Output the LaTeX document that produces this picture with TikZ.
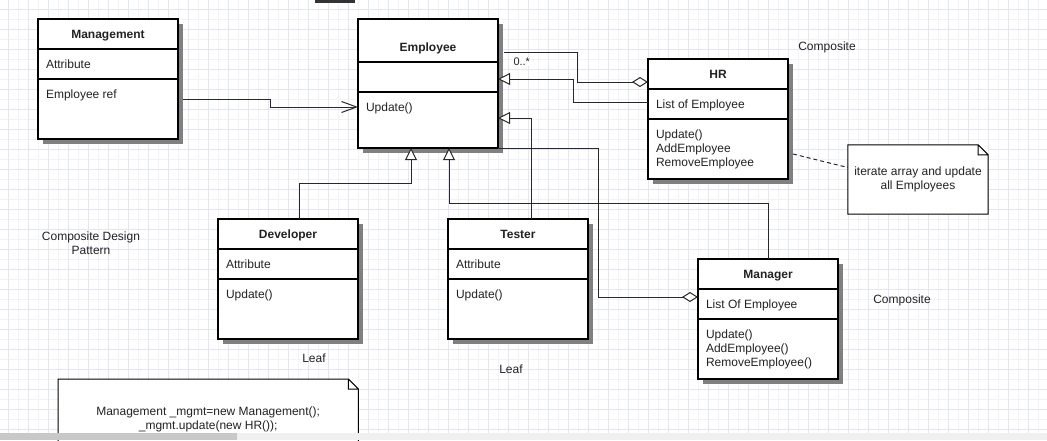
\documentclass[tikz,border=0pt]{standalone}
\usepackage{fontspec}
\setmainfont{Liberation Sans}
\usepackage{xcolor}
\definecolor{ink}{RGB}{34,34,34}
\definecolor{edgecol}{RGB}{40,40,40}
\definecolor{shadowcol}{RGB}{128,128,128}
\definecolor{gridmaj}{RGB}{228,228,250}
\definecolor{gridmin}{RGB}{242,242,252}
\definecolor{bandlight}{RGB}{240,240,240}
\definecolor{banddark}{RGB}{200,200,200}
\definecolor{topbar}{RGB}{51,51,51}
\usepackage{tikz}
\usetikzlibrary{arrows.meta,positioning,shadows}

\newcommand{\clbody}[2]{\parbox[c][#1][t]{124pt}{\raggedright\rule{0pt}{19.2pt}#2}}
\newcommand{\cltitle}[3][19.2pt]{\parbox[c][#2][t]{124pt}{\centering\bfseries\rule{0pt}{#1}#3}}

\tikzset{
  clpart/.style={draw=black,line width=2pt,fill=white,text=ink,inner xsep=8pt,inner ysep=0pt,outer sep=0pt,
    drop shadow={shadow xshift=4.5pt,shadow yshift=-4.5pt,fill=shadowcol,opacity=1}},
  notebox/.style={fill=white,inner sep=0pt,align=center,text=ink},
  noteline/.style={draw=black,line width=1pt},
  plain/.style={inner sep=0pt,align=center,text=ink},
  mult/.style={fill=white,inner sep=1pt,text=ink,font=\fontsize{11}{13}\selectfont},
  gen/.style={draw=edgecol,line width=1pt,-{Triangle[length=12pt,width=12pt,fill=white]}},
  aggr/.style={draw=edgecol,line width=1pt,{Diamond[length=16pt,width=10pt,fill=white]}-},
  assoc/.style={draw=edgecol,line width=1pt,-{Straight Barb[length=15pt,width=11pt]}},
  dashlink/.style={draw=edgecol,line width=1pt,dash pattern=on 4pt off 3pt}
}

\begin{document}
\begin{tikzpicture}[x=1pt,y=-1pt,font=\fontsize{12}{14}\selectfont]
  \useasboundingbox (0,0) rectangle (1047,440);
  \clip (0,0) rectangle (1047,440);
  \fill[white] (0,0) rectangle (1047,440);
  \foreach \gx in {18,38,...,1047} \draw[gridmin,line width=1pt] (\gx,0) -- (\gx,440);
  \foreach \gy in {19,39,...,440} \draw[gridmin,line width=1pt] (0,\gy) -- (1047,\gy);
  \foreach \gx in {8,28,...,1047} \draw[gridmaj,line width=1pt] (\gx,0) -- (\gx,440);
  \foreach \gy in {9,29,...,440} \draw[gridmaj,line width=1pt] (0,\gy) -- (1047,\gy);

  \node[clpart,anchor=north] (mgmt) at (108,19) {\cltitle{30pt}{Management}};
  \node[clpart,below=0pt of mgmt] (mgmtattr) {\clbody{30pt}{Attribute}};
  \node[clpart,below=0pt of mgmtattr] (mgmtops) {\clbody{60pt}{Employee ref}};

  \node[clpart,anchor=north] (emp) at (428,19) {\cltitle[32.6pt]{43pt}{Employee}};
  \node[clpart,below=0pt of emp] (empattr) {\clbody{30pt}{}};
  \node[clpart,below=0pt of empattr] (empops) {\clbody{56pt}{Update()}};

  \node[clpart,anchor=north] (hr) at (718,59) {\cltitle{30pt}{HR}};
  \node[clpart,below=0pt of hr] (hrattr) {\clbody{30pt}{List of Employee}};
  \node[clpart,below=0pt of hrattr] (hrops) {\clbody{60pt}{Update()\\AddEmployee\\RemoveEmployee}};

  \node[clpart,anchor=north] (dev) at (288,219) {\cltitle{30pt}{Developer}};
  \node[clpart,below=0pt of dev] (devattr) {\clbody{30pt}{Attribute}};
  \node[clpart,below=0pt of devattr] (devops) {\clbody{60pt}{Update()}};

  \node[clpart,anchor=north] (tst) at (518,219) {\cltitle{30pt}{Tester}};
  \node[clpart,below=0pt of tst] (tstattr) {\clbody{30pt}{Attribute}};
  \node[clpart,below=0pt of tstattr] (tstops) {\clbody{60pt}{Update()}};

  \node[clpart,anchor=north] (mgr) at (768,259) {\cltitle{30pt}{Manager}};
  \node[clpart,below=0pt of mgr] (mgrattr) {\clbody{30pt}{List Of Employee}};
  \node[clpart,below=0pt of mgrattr] (mgrops) {\clbody{60pt}{Update()\\AddEmployee()\\RemoveEmployee()}};

  \node[notebox,minimum width=140pt,minimum height=69pt] (hint) at (918,179.5) {iterate array and update\\all Employees};
  \node[notebox,minimum width=300pt,minimum height=80pt,anchor=north west] (usage) at (58,379) {Management \_mgmt=new Management();\\\_mgmt.update(new HR());};
  \foreach \n in {hint,usage}
    \draw[noteline] (\n.north west) -- ([xshift=-10pt]\n.north east) -- ([yshift=-10pt]\n.north east) -- (\n.south east) -- (\n.south west) -- cycle
      ([xshift=-10pt]\n.north east) |- ([yshift=-10pt]\n.north east);

  \node[plain] (pattern) at (91,243.5) {Composite Design\\Pattern};
  \node[plain] (hrtag) at (827,47) {Composite};
  \node[plain] (mgrtag) at (902,300) {Composite};
  \node[plain] (devtag) at (314,358) {Leaf};
  \node[plain] (tsttag) at (511,369) {Leaf};

  \draw[assoc] ([xshift=5pt,yshift=10pt]mgmtops.east) -- ++(87,0) |- ([yshift=13pt]empops.west);
  \draw[aggr] ([yshift=-8pt]hr.west) -- ++(-71,0) |- ([xshift=6pt,yshift=-11.5pt]emp.east)
    node[mult,pos=1,anchor=north west,xshift=8pt,yshift=-4pt] (hrmult) {0..*};
  \draw[gen] ([yshift=2pt]hrattr.west) -- ++(-75,0) |- ([yshift=-2pt]empattr.east);
  \draw[gen] ([xshift=13pt]tst.north) |- ([yshift=2pt]empops.east);
  \draw[gen] ([xshift=11pt]dev.north) -- ++(0,-36) -| ([xshift=-17pt]empops.south);
  \draw[gen] (mgr.north) -- ++(0,-56) -| ([xshift=21pt]empops.south);
  \draw[aggr] ([yshift=7pt]mgrattr.west) -- ++(-100,0) |- (empops.south east);
  \draw[dashlink] ([xshift=5pt,yshift=-5pt]hrops.east) -- ([yshift=12pt]hint.west);

  \fill[bandlight] (0,433) rectangle (1047,440);
  \fill[banddark] (0,433) rectangle (237,440);
  \fill[topbar] (315,0) rectangle (355,3);
\end{tikzpicture}
\end{document}
